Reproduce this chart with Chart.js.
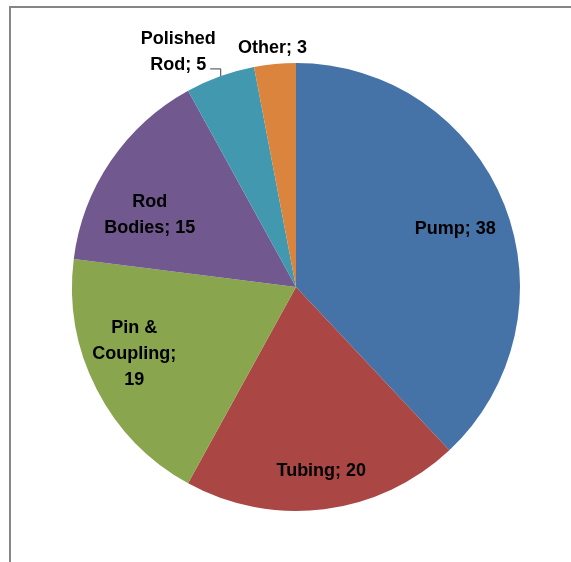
<!DOCTYPE html>
<html>
<head>
<meta charset="utf-8">
<script src="https://cdn.jsdelivr.net/npm/chart.js@4/dist/chart.umd.min.js"></script>
<style>
  html, body { margin: 0; padding: 0; background: #fff; }
  #wrap { position: relative; width: 571px; height: 562px; }
</style>
</head>
<body>
<div id="wrap"><canvas id="failureChart" width="571" height="562"></canvas></div>
<script>
const categories = ['Pump', 'Tubing', 'Pin & Coupling', 'Rod Bodies', 'Polished Rod', 'Other'];
const failures = [38, 20, 19, 15, 5, 3];
const sliceColors = ['#4572A7', '#AA4643', '#89A54E', '#71588F', '#4198AF', '#DB843D'];

// word index after which each label wraps to a new line
const wrapAfter = [[], [], [1, 2], [0], [0], []];
// radial position of each label (fraction of radius) and small pixel nudge
const labelRadius = [0.755, 0.83, 0.78, 0.73, 1.17, 1.07];
const labelNudge = [[2, 4], [2, 0], [-6, -12], [-11, 20], [-29, 12], [-1, 0]];

function labelLines(i) {
    const words = `${categories[i]}; ${failures[i]}`.split(' ');
    const lines = [];
    let cur = [];
    words.forEach((w, k) => {
        cur.push(w);
        if (wrapAfter[i].includes(k)) { lines.push(cur.join(' ')); cur = []; }
    });
    if (cur.length) lines.push(cur.join(' '));
    return lines;
}

const frameAndLabels = {
    id: 'frameAndLabels',
    beforeDraw(chart) {
        const ctx = chart.ctx;
        ctx.save();
        ctx.strokeStyle = '#868686';
        ctx.lineWidth = 2;
        ctx.beginPath();
        ctx.moveTo(10, chart.height);
        ctx.lineTo(10, 7);
        ctx.lineTo(chart.width, 7);
        ctx.stroke();
        ctx.restore();
    },
    afterDatasetsDraw(chart) {
        const ctx = chart.ctx;
        const meta = chart.getDatasetMeta(0);
        const lineH = 26;
        ctx.save();
        ctx.font = 'bold 18px "Liberation Sans", Arial, sans-serif';
        ctx.fillStyle = '#000';
        ctx.textAlign = 'center';
        ctx.textBaseline = 'middle';
        meta.data.forEach((arc, i) => {
            const mid = (arc.startAngle + arc.endAngle) / 2;
            const r = arc.outerRadius * labelRadius[i];
            const x = arc.x + Math.cos(mid) * r + labelNudge[i][0];
            const y = arc.y + Math.sin(mid) * r + labelNudge[i][1];
            const lines = labelLines(i);
            const top = y - (lines.length - 1) * lineH / 2;
            lines.forEach((t, k) => ctx.fillText(t, x, top + k * lineH));

            // leader line for the outside label that sits beside the pie edge
            if (categories[i] === 'Polished Rod') {
                const last = lines[lines.length - 1];
                const ly = top + (lines.length - 1) * lineH + 3;
                const x0 = x + ctx.measureText(last).width / 2 + 4;
                const x1 = x0 + 10;
                const dx = x1 - arc.x;
                const y1 = arc.y - Math.sqrt(arc.outerRadius * arc.outerRadius - dx * dx);
                ctx.strokeStyle = '#404040';
                ctx.lineWidth = 1;
                ctx.beginPath();
                ctx.moveTo(x0, ly + 0.5);
                ctx.lineTo(x1 + 0.5, ly + 0.5);
                ctx.lineTo(x1 + 0.5, y1);
                ctx.stroke();
            }
        });
        ctx.restore();
    }
};

new Chart(document.getElementById('failureChart'), {
    type: 'pie',
    data: {
        labels: categories,
        datasets: [{
            data: failures,
            backgroundColor: sliceColors,
            borderWidth: 0
        }]
    },
    options: {
        responsive: false,
        animation: false,
        layout: { padding: { left: 72, right: 51, top: 63, bottom: 51 } },
        plugins: {
            legend: { display: false },
            tooltip: { enabled: false }
        }
    },
    plugins: [frameAndLabels]
});
</script>
</body>
</html>
